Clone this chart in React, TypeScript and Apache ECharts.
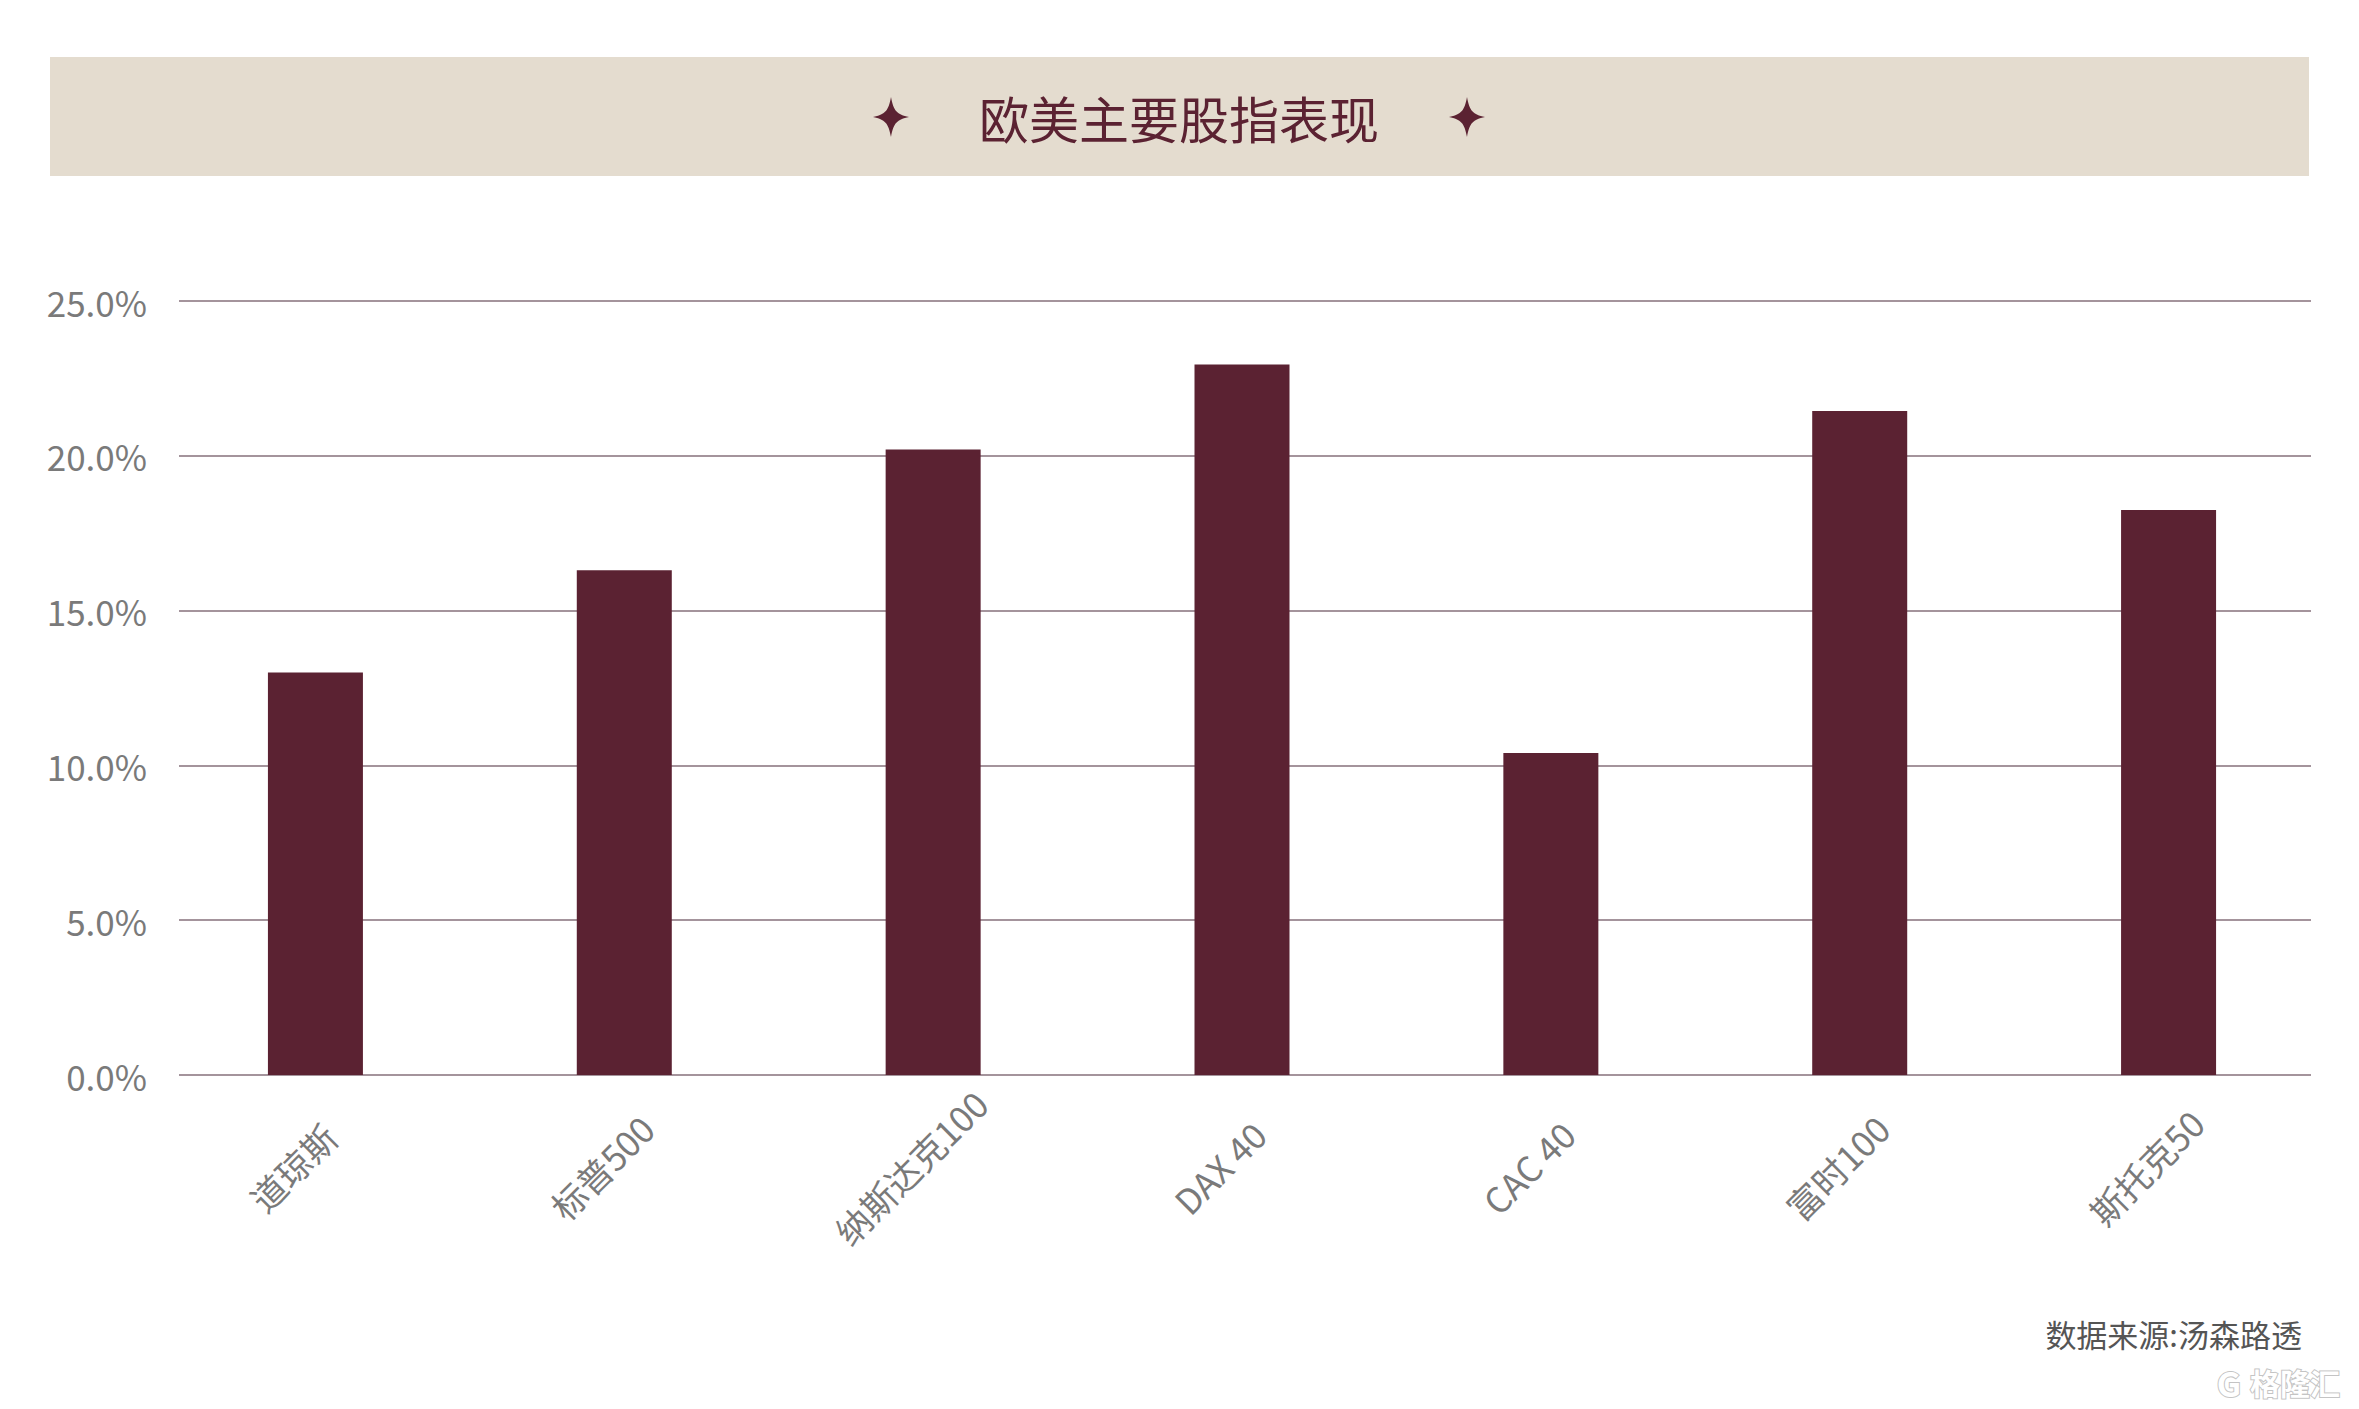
import React, { useEffect, useRef } from "react";
import * as echarts from "echarts";

const categories = ["道琼斯", "标普500", "纳斯达克100", "DAX 40", "CAC 40", "富时100", "斯托克50"];
const values = [13.0, 16.3, 20.2, 22.95, 10.4, 21.45, 18.25];
const yTicks = { min: 0, max: 25, interval: 5 };
const titleText = "欧美主要股指表现";
const sourceText = "数据来源:汤森路透";
const watermarkText = "格隆汇";

const FONT = '"Noto Sans CJK SC", "Noto Sans", sans-serif';
const BAR = "#5B2232";

let registered = false;
function registerStar() {
  if (registered) return;
  const d =
    "M0,-20 C2.5,-6 6,-2.5 18,0 C6,2.5 2.5,6 0,20 C-2.5,6 -6,2.5 -18,0 C-6,-2.5 -2.5,-6 0,-20 Z";
  echarts.graphic.registerShape("star4", echarts.graphic.extendPath(d, {}));
  registered = true;
}

export default function App() {
  const ref = useRef<HTMLDivElement>(null);
  useEffect(() => {
    document.body.style.margin = "0";
    registerStar();
    const chart = echarts.init(ref.current!, undefined, { renderer: "svg" });
    const plotTop = 301;
    const plotH = 774;
    chart.setOption({
      animation: false,
      backgroundColor: "#ffffff",
      grid: [
        { left: 179, top: plotTop, width: 2132, height: plotH },
        { left: 161, top: plotTop, width: 2162, height: plotH },
        { left: 138, top: plotTop, width: 2162, height: plotH },
      ],
      xAxis: [
        { type: "category", gridIndex: 0, data: categories, show: false },
        { type: "category", gridIndex: 1, data: categories, show: false },
        {
          type: "category",
          gridIndex: 2,
          data: categories,
          axisLine: { show: false },
          axisTick: { show: false },
          axisLabel: {
            rotate: 45,
            align: "center",
            verticalAlign: "middle",
            margin: 92,
            color: "#7a7a7a",
            fontSize: 35,
            fontFamily: FONT,
            interval: 0,
          },
        },
      ],
      yAxis: [
        {
          type: "value",
          gridIndex: 0,
          ...yTicks,
          axisLine: { show: false },
          axisTick: { show: false },
          axisLabel: {
            margin: 32,
            color: "#7a7a7a",
            fontSize: 35,
            fontFamily: FONT,
            formatter: (v: number) => v.toFixed(1) + "%",
          },
          splitLine: { show: true, lineStyle: { color: "#86707b", width: 1.5 } },
        },
        { type: "value", gridIndex: 1, ...yTicks, show: false, splitLine: { show: false } },
        { type: "value", gridIndex: 2, ...yTicks, show: false, splitLine: { show: false } },
      ],
      series: [
        {
          type: "bar",
          xAxisIndex: 1,
          yAxisIndex: 1,
          data: values,
          barWidth: 95,
          itemStyle: { color: BAR },
        },
      ],
      graphic: [
        {
          type: "rect",
          shape: { x: 50, y: 57, width: 2259, height: 119 },
          style: { fill: "#E4DCCF" },
          z: -1,
        },
        {
          type: "text",
          x: 1179,
          y: 117,
          style: {
            text: titleText,
            fill: BAR,
            fontSize: 50,
            fontFamily: FONT,
            textAlign: "center",
            textVerticalAlign: "middle",
          },
        },
        { type: "star4", x: 891, y: 117, style: { fill: BAR } },
        { type: "star4", x: 1467, y: 117, style: { fill: BAR } },
        {
          type: "text",
          x: 2302,
          y: 1333,
          style: {
            text: sourceText,
            fill: "#555555",
            fontSize: 31,
            fontFamily: FONT,
            textAlign: "right",
            textVerticalAlign: "middle",
          },
        },
        {
          type: "text",
          x: 2340,
          y: 1382,
          style: {
            text: watermarkText,
            fill: "#ffffff",
            stroke: "#c4c4c4",
            lineWidth: 2,
            fontSize: 30,
            fontWeight: "bold",
            fontFamily: FONT,
            textAlign: "right",
            textVerticalAlign: "middle",
          },
        },
        {
          type: "text",
          x: 2229,
          y: 1382,
          style: {
            text: "G",
            fill: "#ffffff",
            stroke: "#c4c4c4",
            lineWidth: 2,
            fontSize: 34,
            fontWeight: "bold",
            fontFamily: FONT,
            textAlign: "center",
            textVerticalAlign: "middle",
          },
        },
      ],
    });
    return () => chart.dispose();
  }, []);
  return <div ref={ref} style={{ width: 2359, height: 1409 }} />;
}
